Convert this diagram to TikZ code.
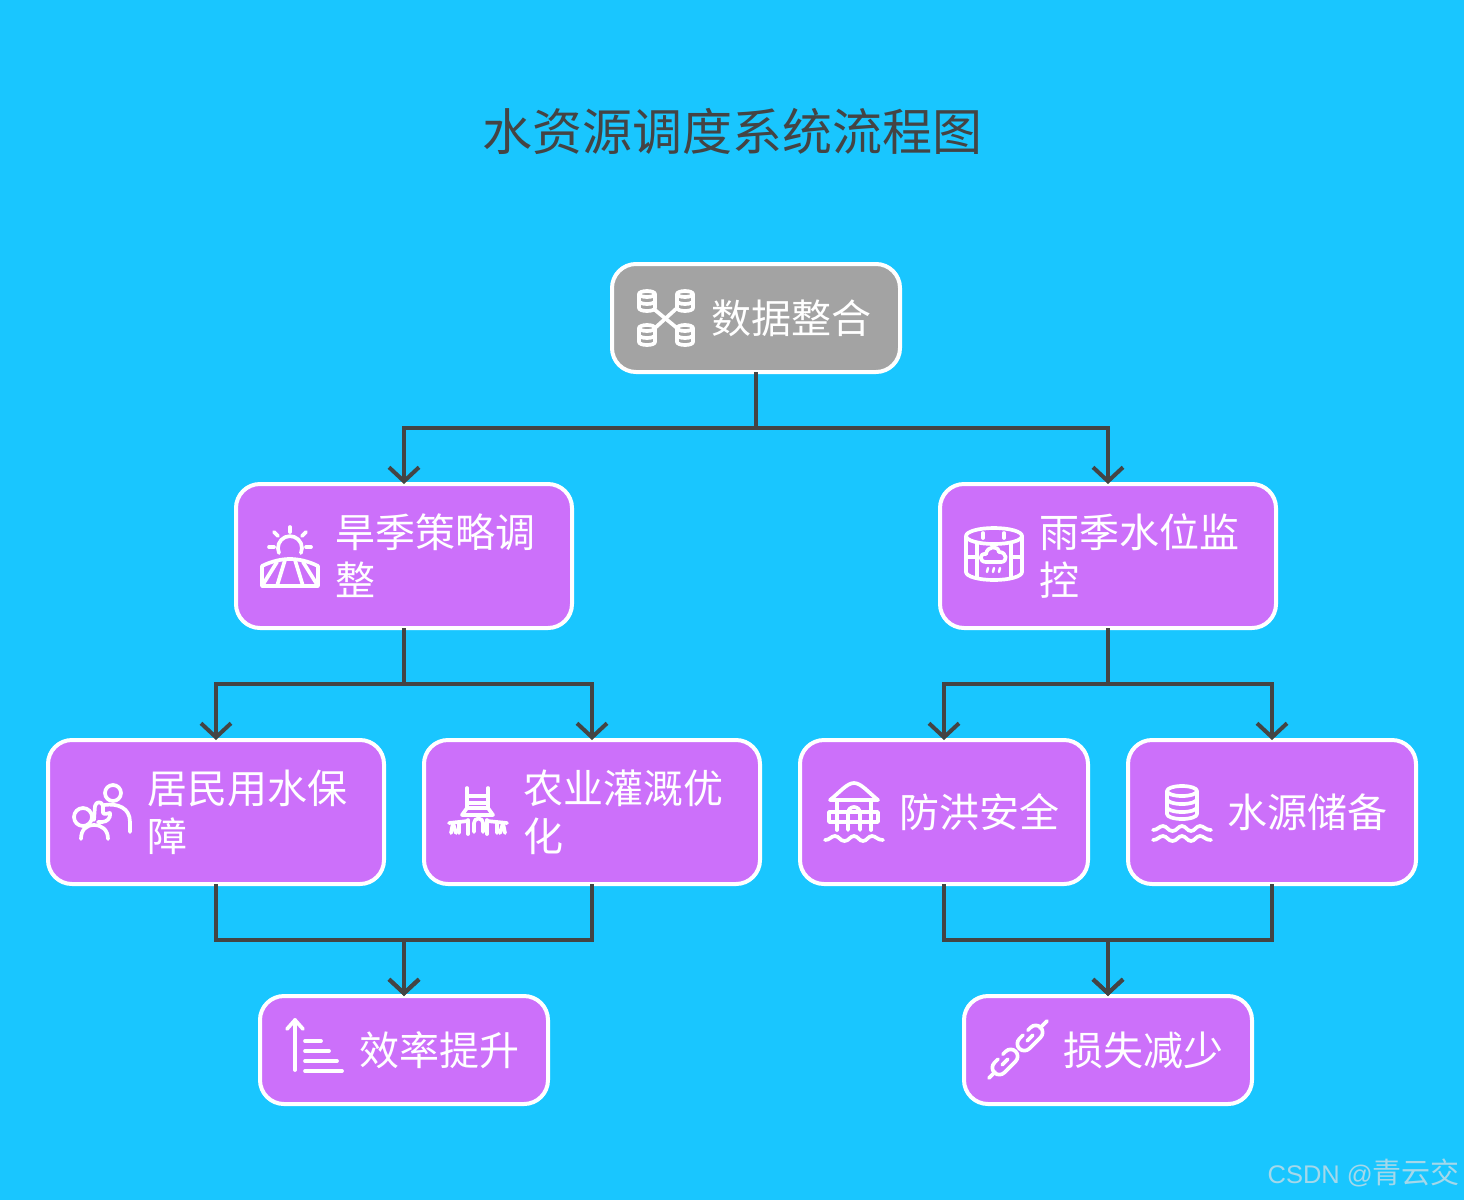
\documentclass[tikz,border=0pt]{standalone}
\usepackage{fontspec}
\setmainfont{Noto Sans CJK SC}
\newfontfamily\markfont{Liberation Sans}
\usetikzlibrary{arrows.meta}
\definecolor{skyback}{HTML}{19C6FF}
\definecolor{boxpurple}{HTML}{CC70FA}
\definecolor{boxgrey}{HTML}{A3A3A3}
\definecolor{flowline}{HTML}{444444}
\definecolor{markblue}{HTML}{A4D8EA}
\newcommand{\wavepath}{(-29,1) .. controls (-24,1) and (-23,-3) .. (-19,-3) .. controls (-15,-3) and (-14,2) .. (-9.5,2) .. controls (-5,2) and (-4,-3) .. (0,-3) .. controls (4,-3) and (5,2) .. (9,2) .. controls (13,2) and (14,-3) .. (18,-3) .. controls (22,-3) and (23,1) .. (29,1)}
\tikzset{
    flowbox/.style={rectangle,draw=white,line width=4pt,rounded corners=24pt,outer sep=0pt,inner sep=0pt,text=white},
    purplebox/.style={flowbox,fill=boxpurple},
    widebox/.style={minimum width=336pt,minimum height=144pt},
    narrowbox/.style={minimum width=288pt,minimum height=144pt},
    shortbox/.style={minimum width=288pt,minimum height=108pt},
    boxtext/.style={anchor=west,inner sep=0pt,text=white,align=left,font=\fontsize{40pt}{48pt}\selectfont},
    flowarrow/.style={draw=flowline,line width=4pt,-{Straight Barb[length=14pt,width=30pt,line width=4pt]}},
    iconline/.style={draw=white,line width=3.7pt,line cap=round,line join=round},
    dbcyl/.pic={
        \draw[iconline] (0,-7) ellipse (8 and 3);
        \draw[iconline] (-8,-7) -- (-8,7) arc (180:0:8 and 3) -- (8,-7);
        \draw[iconline] (-8,0) arc (180:0:8 and 3);
    },
    dataicon/.pic={
        \pic at (-19,-17) {dbcyl};
        \pic at (19,-17) {dbcyl};
        \pic at (-19,17) {dbcyl};
        \pic at (19,17) {dbcyl};
        \draw[iconline] (-11,-8) -- (11,10);
        \draw[iconline] (11,-10) -- (-11,10);
    },
    sunicon/.pic={
        \draw[iconline] (-11,-3) arc (156:384:12);
        \draw[iconline] (0,-29) -- (0,-24);
        \draw[iconline] (-16,-24) -- (-12,-20);
        \draw[iconline] (16,-24) -- (12,-20);
        \draw[iconline] (-21,-9) -- (-16,-9);
        \draw[iconline] (21,-9) -- (16,-9);
        \draw[iconline] (-28,30) -- (-28,10) .. controls (-18,5) and (-8,3) .. (0,3) .. controls (8,3) and (18,5) .. (28,10) -- (28,30) -- cycle;
        \draw[iconline] (-28,30) -- (-13,6);
        \draw[iconline] (-13,30) -- (-5,4);
        \draw[iconline] (13,30) -- (5,4);
        \draw[iconline] (28,30) -- (13,6);
    },
    tankicon/.pic={
        \draw[iconline] (0,-20) ellipse (28 and 8);
        \draw[iconline] (-28,-20) -- (-28,16) arc (180:0:28 and 8) -- (28,-20);
        \draw[iconline] (-17,-13) -- (-17,21);
        \draw[iconline] (17,-13) -- (17,21);
        \draw[iconline] (-28,1) -- (-17,1);
        \draw[iconline] (28,1) -- (17,1);
        \draw[iconline] (-11,-23) -- (-11,-18);
        \draw[iconline] (10,-23) -- (10,-18);
        \draw[iconline] (-8,6) .. controls (-15,6) and (-15,-3) .. (-8,-2) .. controls (-7,-10) and (4,-11) .. (5,-4) .. controls (13,-4) and (14,6) .. (7,6) -- cycle;
        \draw[iconline,line width=2.5pt] (-6,12) -- (-7,16);
        \draw[iconline,line width=2.5pt] (0,12) -- (-1,16);
        \draw[iconline,line width=2.5pt] (6,12) -- (5,16);
    },
    peopleicon/.pic={
        \draw[iconline] (11,-19) circle (8);
        \draw[iconline] (2,-7) .. controls (16,-9) and (28,-4) .. (28,10) -- (28,20);
        \draw[iconline] (-19,5) circle (9);
        \draw[iconline] (-21,27) .. controls (-21,18) and (-16,13) .. (-8,13) .. controls (0,13) and (6,18) .. (6,27);
        \draw[iconline] (-8,8) -- (-7,-6) .. controls (-6,-11) and (0,-11) .. (1,-6) -- (1,1) .. controls (2,3) and (7,1) .. (8,1) .. controls (9,6) and (5,10) .. (0,10) -- (-4,10);
    },
    irrigicon/.pic={
        \draw[iconline] (-11,-24) -- (-11,-4);
        \draw[iconline] (10,-24) -- (10,-4);
        \draw[iconline] (-11,-16) -- (10,-16);
        \draw[iconline] (-11,-9) -- (10,-9);
        \draw[iconline] (-11,-4) -- (10,-4) -- (15,3) -- (-16,3) -- cycle;
        \draw[iconline] (-29,11) -- (-10,9) (9,9) -- (29,11);
        \draw[iconline] (-10,22) -- (-10,8) (9,22) -- (9,8);
        \draw[iconline] (-4,20) -- (-4,11) arc (180:360:4.5) -- (5,20);
        \draw[iconline] (-25,11) -- (-27,21) (-25,11) -- (-22,21) (-19,11) -- (-19,21);
        \draw[iconline] (25,11) -- (27,21) (25,11) -- (22,21) (19,11) -- (19,21);
    },
    damicon/.pic={
        \draw[iconline] (-24,-12) .. controls (-14,-20) and (-7,-29) .. (0,-29) .. controls (7,-29) and (14,-20) .. (24,-12) -- cycle;
        \draw[iconline] (-17,-11) -- (-17,18);
        \draw[iconline] (17,-11) -- (17,18);
        \draw[iconline] (-25,0) rectangle (24,10);
        \draw[iconline] (-6,18) -- (-6,1) arc (180:360:6) -- (6,18);
        \draw[iconline,shift={(0,27)}] \wavepath;
    },
    reserveicon/.pic={
        \draw[iconline] (0,-21) ellipse (15 and 5);
        \draw[iconline] (-15,-21) -- (-15,2) arc (180:0:15 and 5) -- (15,-21);
        \draw[iconline] (-15,-13) arc (180:0:15 and 5);
        \draw[iconline] (-15,-5) arc (180:0:15 and 5);
        \draw[iconline,shift={(0,17)}] \wavepath;
        \draw[iconline,shift={(0,27)}] \wavepath;
    },
    risingicon/.pic={
        \draw[iconline] (-19,-30) -- (-19,20);
        \draw[iconline] (-27,-21) -- (-19,-30) -- (-11,-21);
        \draw[iconline] (-9,-9) -- (7,-9);
        \draw[iconline] (-9,1) -- (15,1);
        \draw[iconline] (-9,11) -- (23,11);
        \draw[iconline] (-9,21) -- (28,21);
    },
    chainlink/.pic={
        \draw[iconline,rounded corners=7pt,rotate=45] (-3,-7) -- (-15,-7) -- (-15,7) -- (15,7) -- (15,-7) -- (4,-7);
        \draw[iconline,rotate=45] (-4,0) -- (4,0);
    },
    chainicon/.pic={
        \pic at (12,-12) {chainlink};
        \pic at (-13,12) {chainlink};
        \draw[iconline] (22,-22) -- (29,-29);
        \draw[iconline] (-23,22) -- (-29,28);
    },
}
\begin{document}
\begin{tikzpicture}[x=1pt,y=-1pt]
    \fill[skyback] (0,0) rectangle (1464,1200);
    \node[text=flowline,font=\fontsize{50pt}{60pt}\selectfont,inner sep=0pt] (title) at (732,131) {水资源调度系统流程图};
    % boxes
    \node[flowbox,fill=boxgrey,shortbox] (datamerge) at (756,318) {};
    \node[purplebox,widebox] (drystrategy) at (404,556) {};
    \node[purplebox,widebox] (rainmonitor) at (1108,556) {};
    \node[purplebox,widebox] (residents) at (216,812) {};
    \node[purplebox,widebox] (farming) at (592,812) {};
    \node[purplebox,narrowbox] (floodsafe) at (944,812) {};
    \node[purplebox,narrowbox] (waterstore) at (1272,812) {};
    \node[purplebox,shortbox] (efficiency) at (404,1050) {};
    \node[purplebox,shortbox] (lossless) at (1108,1050) {};
    % labels
    \node[boxtext] (datamergetext) at (711,318) {数据整合};
    \node[boxtext] (drystrategytext) at (335,556) {旱季策略调\\整};
    \node[boxtext] (rainmonitortext) at (1039,556) {雨季水位监\\控};
    \node[boxtext] (residentstext) at (147,812) {居民用水保\\障};
    \node[boxtext] (farmingtext) at (523,812) {农业灌溉优\\化};
    \node[boxtext] (floodsafetext) at (899,812) {防洪安全};
    \node[boxtext] (waterstoretext) at (1227,812) {水源储备};
    \node[boxtext] (efficiencytext) at (359,1050) {效率提升};
    \node[boxtext] (losslesstext) at (1063,1050) {损失减少};
    % icons
    \pic at (666,318) {dataicon};
    \pic at (290,556) {sunicon};
    \pic at (994,556) {tankicon};
    \pic at (102,812) {peopleicon};
    \pic at (478,812) {irrigicon};
    \pic at (854,812) {damicon};
    \pic at (1182,812) {reserveicon};
    \pic at (314,1050) {risingicon};
    \pic at (1018,1050) {chainicon};
    % connectors
    \draw[flowarrow] (datamerge.south) -- ++(0,56) -| (drystrategy.north);
    \draw[flowarrow] (datamerge.south) -- ++(0,56) -| (rainmonitor.north);
    \draw[flowarrow] (drystrategy.south) -- ++(0,56) -| (residents.north);
    \draw[flowarrow] (drystrategy.south) -- ++(0,56) -| (farming.north);
    \draw[flowarrow] (rainmonitor.south) -- ++(0,56) -| (floodsafe.north);
    \draw[flowarrow] (rainmonitor.south) -- ++(0,56) -| (waterstore.north);
    \draw[flowarrow] (residents.south) -- ++(0,56) -| (efficiency.north);
    \draw[flowarrow] (farming.south) -- ++(0,56) -| (efficiency.north);
    \draw[flowarrow] (floodsafe.south) -- ++(0,56) -| (lossless.north);
    \draw[flowarrow] (waterstore.south) -- ++(0,56) -| (lossless.north);
    \node[anchor=east,inner sep=0pt,text=markblue,font=\fontsize{29pt}{34pt}\selectfont] (watermark) at (1460,1173) {{\markfont\fontsize{25.5pt}{34pt}\selectfont CSDN @}青云交};
\end{tikzpicture}
\end{document}
